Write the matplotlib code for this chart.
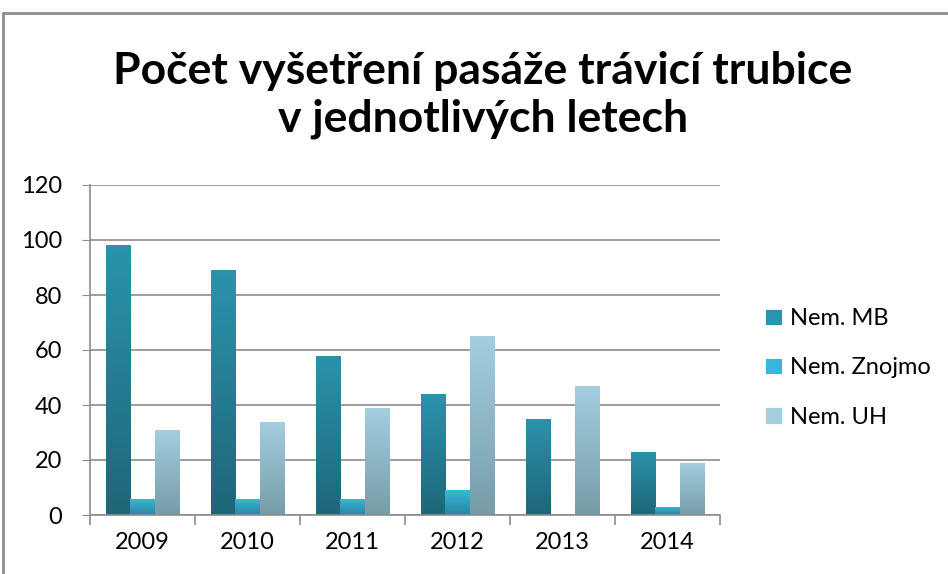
import numpy as np
import matplotlib
matplotlib.use("Agg")
import matplotlib.pyplot as plt
from matplotlib.colors import LinearSegmentedColormap
from matplotlib.patches import Rectangle

years = ["2009", "2010", "2011", "2012", "2013", "2014"]
mb = [98, 89, 58, 44, 35, 23]
znojmo = [6, 6, 6, 9, 0, 3]
uh = [31, 34, 39, 65, 47, 19]

series = [
    ("Nem. MB", mb, "#2b93ad", "#1e6678"),
    ("Nem. Znojmo", znojmo, "#38b8d8", "#2a86a0"),
    ("Nem. UH", uh, "#a3cfe0", "#779ca8"),
]

plt.rcParams["font.family"] = ["Lato", "DejaVu Sans"]

fig = plt.figure(figsize=(9.48, 5.74), dpi=100)
ax = fig.add_axes([90 / 948, 59 / 574, 630 / 948, 330 / 574])

# outer chart frame (Excel-like)
fig.patches.append(Rectangle((3 / 948, -0.05), 1.0, 1 - 13 / 574 + 0.05,
                             transform=fig.transFigure, fill=False,
                             edgecolor="#8c8c8c", linewidth=2))

x = np.arange(len(years))
w = 0.23
grad = np.linspace(0, 1, 256).reshape(-1, 1)

for i, (name, vals, top, bottom) in enumerate(series):
    bars = ax.bar(x + (i - 1) * w, vals, w, color=top, label=name,
                  edgecolor="#ffffff", linewidth=0.6, zorder=2)
    cmap = LinearSegmentedColormap.from_list(name, [bottom, top])
    for b in bars:
        h = b.get_height()
        if h <= 0:
            continue
        im = ax.imshow(grad, cmap=cmap, aspect="auto", origin="lower",
                       extent=[b.get_x(), b.get_x() + b.get_width(), 0, h],
                       zorder=2.5)
        im.set_clip_path(b)

ax.set_xlim(-0.5, 5.5)
ax.set_ylim(0, 120)
ax.set_yticks(range(0, 121, 20))
ax.set_xticks(x)
ax.set_xticklabels(years)
ax.set_xticks(np.arange(-0.5, 6, 1), minor=True)
ax.tick_params(axis="x", which="major", length=0, labelsize=17, pad=12)
ax.tick_params(axis="x", which="minor", length=7, color="#8c8c8c", width=1.2)
ax.tick_params(axis="y", length=6, color="#8c8c8c", labelsize=17, pad=14)
ax.grid(axis="y", color="#8c8c8c", linewidth=1.2, zorder=0)
ax.set_axisbelow(True)
for s in ["top", "right"]:
    ax.spines[s].set_visible(False)
for s in ["left", "bottom"]:
    ax.spines[s].set_color("#8c8c8c")
    ax.spines[s].set_linewidth(1.2)

fig.text(483 / 948, 1 - 95 / 574, "Počet vyšetření pasáže trávicí trubice\nv jednotlivých letech",
         ha="center", va="center", fontsize=32, fontweight="bold",
         linespacing=1.2)

leg = fig.legend(loc="center left", bbox_to_anchor=(744 / 948, 1 - 368 / 574),
                 frameon=False, fontsize=17, handlelength=0.7, handleheight=0.7,
                 handletextpad=0.35, labelspacing=1.2)

fig.savefig("out.png", dpi=100)
